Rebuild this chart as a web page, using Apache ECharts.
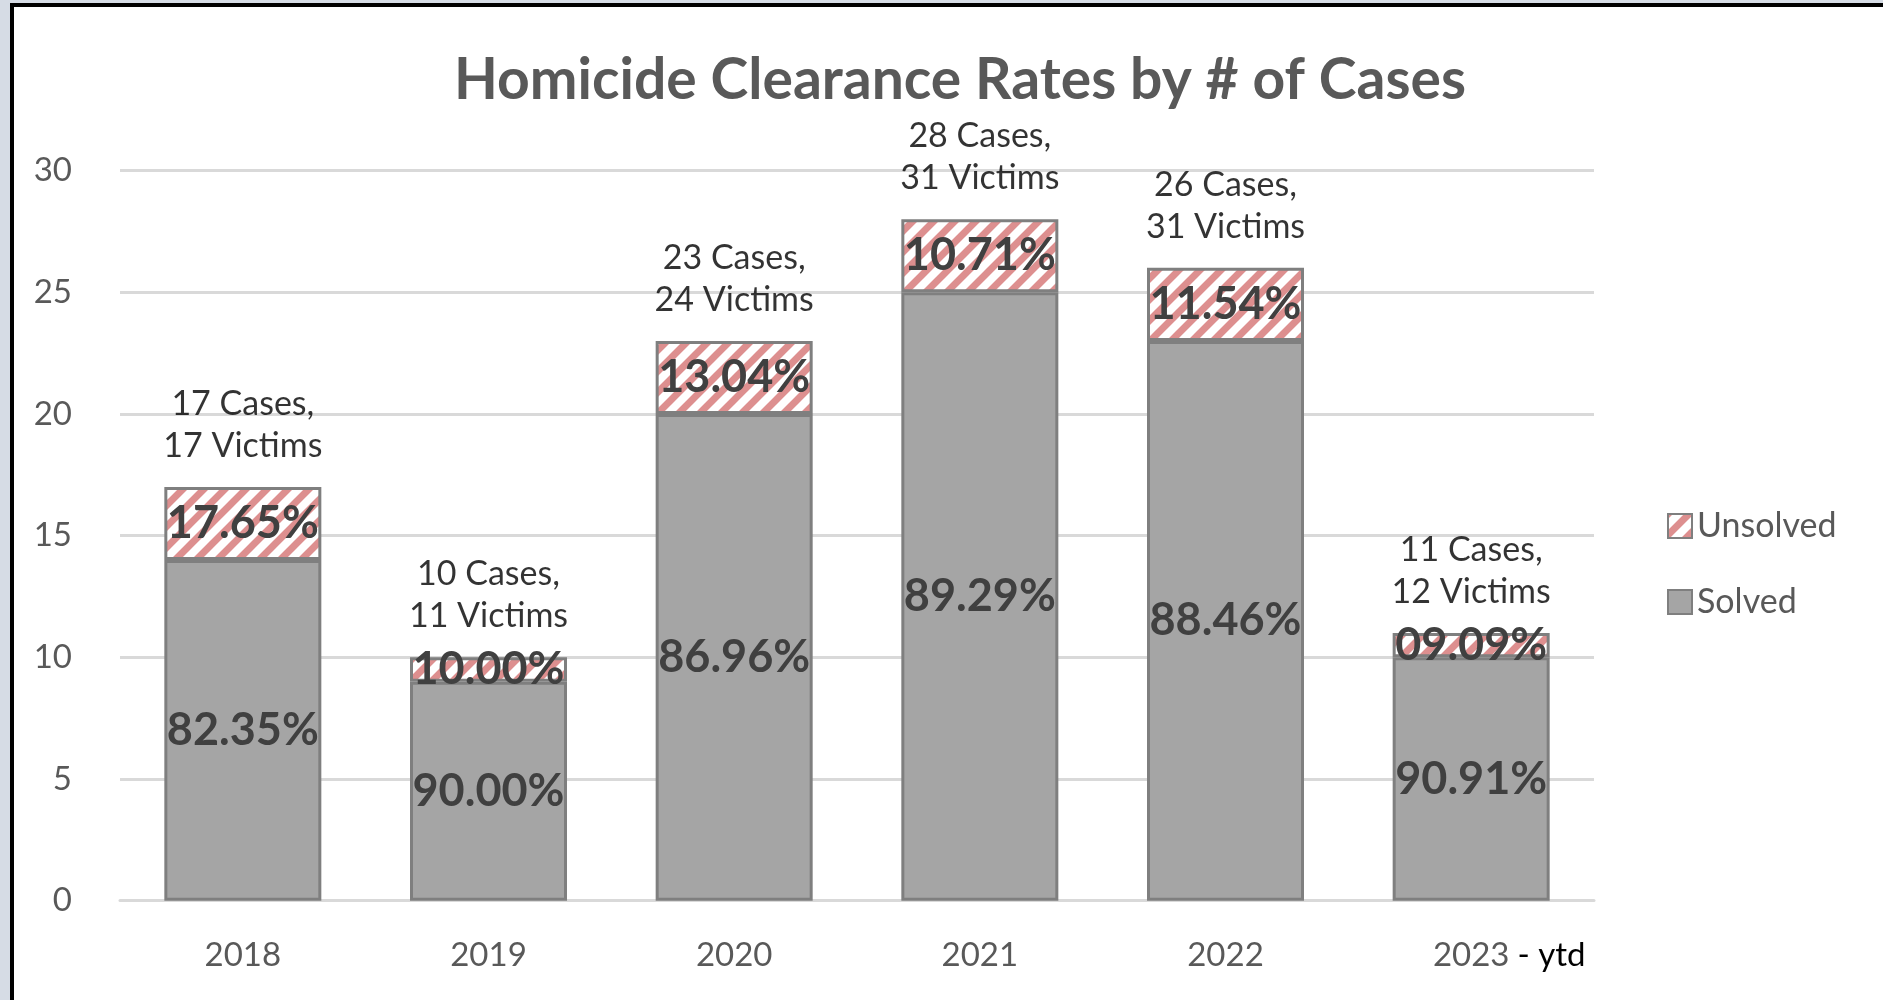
<!DOCTYPE html>
<html>
<head>
<meta charset="utf-8">
<script src="https://cdn.jsdelivr.net/npm/echarts@6/dist/echarts.min.js"></script>
<style>
  html, body { margin: 0; padding: 0; background: #d6dce5; }
  #frame {
    position: absolute; left: 10px; top: 3px; right: 0; bottom: 0;
    border-left: 4px solid #000; border-top: 4px solid #000;
    background: #fff;
  }
  #chart { position: absolute; left: 0; top: 0; width: 1883px; height: 1000px; }
</style>
</head>
<body>
<div id="frame"></div>
<div id="chart"></div>
<script>
/* ---------- data ---------- */
var categories = ['2018', '2019', '2020', '2021', '2022', '2023 - ytd'];
var solved = [14, 9, 20, 25, 23, 10];
var unsolved = [3, 1, 3, 3, 3, 1];
var solvedPct = ['82.35%', '90.00%', '86.96%', '89.29%', '88.46%', '90.91%'];
var unsolvedPct = ['17.65%', '10.00%', '13.04%', '10.71%', '11.54%', '09.09%'];
var cases = [17, 10, 23, 28, 26, 11];
var victims = [17, 11, 24, 31, 31, 12];
var yTicks = [0, 5, 10, 15, 20, 25, 30];

var FONT = 'Lato';

/* ---------- hatch pattern ---------- */
function makeHatch() {
    var p = 21;
    var c = document.createElement('canvas');
    c.width = p; c.height = p;
    var ctx = c.getContext('2d');
    ctx.fillStyle = '#ffffff';
    ctx.fillRect(0, 0, p, p);
    ctx.strokeStyle = '#dd8f8f';
    ctx.lineWidth = 7;
    ctx.beginPath();
    ctx.moveTo(-p, p); ctx.lineTo(p, -p);
    ctx.moveTo(0, p); ctx.lineTo(p, 0);
    ctx.moveTo(0, 2 * p); ctx.lineTo(2 * p, 0);
    ctx.stroke();
    return c;
}

var totals = solved.map(function (v, i) { return v + unsolved[i]; });

var chart = echarts.init(document.getElementById('chart'), null, { renderer: 'canvas' });

var option = {
    animation: false,
    backgroundColor: 'transparent',
    title: {
        text: 'Homicide Clearance Rates by # of Cases',
        left: 955,
        top: 47,
        textAlign: 'center',
        textStyle: { fontFamily: FONT, fontWeight: 'bold', fontSize: 57, color: '#595959' }
    },
    legend: {
        orient: 'vertical',
        left: 1662,
        top: 504,
        itemWidth: 24,
        itemHeight: 24,
        itemGap: 42,
        icon: 'rect',
        data: ['Unsolved', 'Solved'],
        textStyle: { fontFamily: FONT, fontSize: 34, lineHeight: 34, color: '#595959' }
    },
    grid: { left: 120, right: 1883 - 1594, top: 170.5, bottom: 1000 - 900.7 },
    xAxis: {
        type: 'category',
        data: categories,
        axisLine: { show: true, lineStyle: { color: '#d9d9d9', width: 3 } },
        axisTick: { show: false },
        axisLabel: {
            interval: 0,
            margin: 38,
            fontFamily: FONT,
            fontSize: 33,
            color: '#595959',
            formatter: function (v) {
                var parts = v.split(' - ');
                if (parts.length > 1) {
                    return '{p|}{a|' + parts[0] + '}{y|- ' + parts[1] + '}';
                }
                return '{a|' + v + '}';
            },
            rich: {
                a: { fontFamily: FONT, fontSize: 33, color: '#595959' },
                p: { width: 80 },
                y: { width: 76, padding: [0, 0, 0, 4], fontFamily: FONT, fontSize: 33, color: '#000', align: 'left' }
            }
        }
    },
    yAxis: {
        type: 'value',
        min: yTicks[0],
        max: yTicks[yTicks.length - 1],
        interval: 5,
        axisLine: { show: false },
        axisTick: { show: false },
        axisLabel: { margin: 48, fontFamily: FONT, fontSize: 33, color: '#595959' },
        splitLine: { lineStyle: { color: '#d9d9d9', width: 3 } }
    },
    series: [
        {
            name: 'Solved',
            type: 'bar',
            stack: 'cases',
            barWidth: 157,
            data: solved,
            itemStyle: { color: '#a5a5a5', borderColor: '#7f7f7f', borderWidth: 3 },
            label: {
                show: true,
                position: 'inside',
                fontFamily: FONT,
                fontWeight: 'bold',
                fontSize: 45,
                color: '#404040',
                formatter: function (p) { return solvedPct[p.dataIndex]; }
            }
        },
        {
            name: 'Unsolved',
            type: 'bar',
            stack: 'cases',
            barWidth: 157,
            data: unsolved,
            itemStyle: {
                color: { image: makeHatch(), repeat: 'repeat' },
                borderColor: '#7f7f7f',
                borderWidth: 3
            },
            label: {
                show: true,
                position: 'inside',
                fontFamily: FONT,
                fontWeight: 'bold',
                fontSize: 45,
                color: '#404040',
                formatter: function (p) { return unsolvedPct[p.dataIndex]; }
            }
        },
        {
            name: 'Totals',
            type: 'scatter',
            data: totals,
            symbolSize: 0,
            silent: true,
            z: 5,
            label: {
                show: true,
                position: 'top',
                distance: 20,
                fontFamily: FONT,
                fontSize: 34,
                lineHeight: 42,
                color: '#000',
                formatter: function (p) {
                    return cases[p.dataIndex] + ' Cases,\n' + victims[p.dataIndex] + ' Victims';
                }
            }
        }
    ]
};

chart.setOption(option);
</script>
</body>
</html>
